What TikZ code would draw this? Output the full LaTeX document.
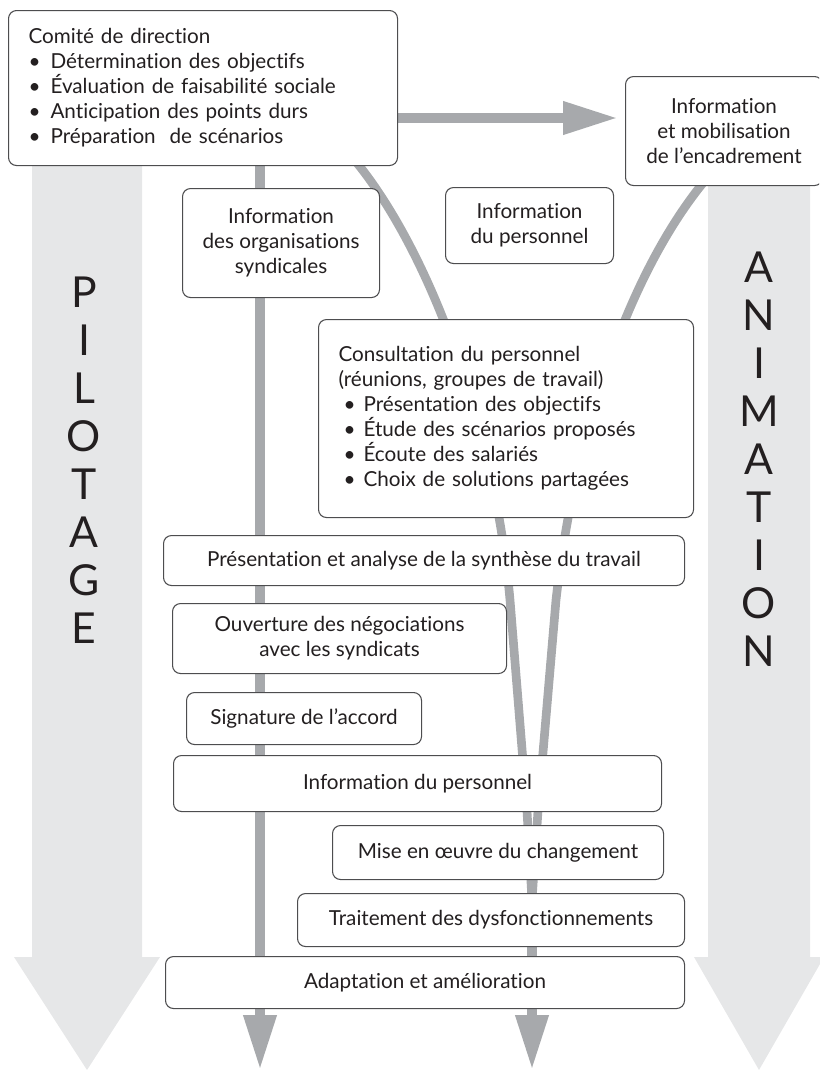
\documentclass[tikz,border=0pt]{standalone}
\usepackage{fontspec}
\setmainfont{Lato}[Ligatures=NoCommon]
\usetikzlibrary{arrows.meta,backgrounds}
\definecolor{flowgray}{RGB}{167,169,172}
\definecolor{bandgray}{RGB}{230,231,232}
\definecolor{edgegray}{RGB}{77,77,79}
\definecolor{inkblack}{RGB}{35,31,32}
\newcommand{\bul}{\makebox[16.5pt][l]{\textbullet}}
\newcommand{\subbul}{\hspace*{3.75pt}\makebox[15pt][l]{\textbullet}}
\tikzset{every picture/.style={line width=0.75pt}}
\tikzset{
  stepbox/.style={draw=edgegray, line width=0.8pt, rounded corners=6pt, fill=white,
    text=inkblack, font=\fontsize{15.5}{18.75}\selectfont, inner sep=0pt, align=center},
  sz/.style 2 args={minimum width=#1*0.75pt, minimum height=#2*0.75pt},
  flow/.style={draw=flowgray, line width=7.5pt},
  flowcurve/.style={draw=flowgray, line width=6.5pt},
  flowtip/.style={-{Triangle[length=41.25pt,width=23.25pt]}},
  band/.style={fill=bandgray},
  bandletter/.style={font=\fontsize{32}{32}\selectfont, text=inkblack}
}
\begin{document}
\begin{tikzpicture}[x=0.75pt,y=0.75pt,yscale=-1,xscale=1]
\useasboundingbox (0,0) rectangle (819,1071);
\clip (0,0) rectangle (819,1071);

% Boxes
\node[stepbox, sz={389}{155}, anchor=north west, align=left, text width=261.75pt, inner xsep=15pt] (comite) at (8,10)
  {Comité de direction\\
   \bul Détermination des objectifs\\
   \bul Évaluation de faisabilité sociale\\
   \bul Anticipation des points durs\\
   \bul Préparation\ \ de scénarios};
\node[stepbox, sz={197}{109}, anchor=north west] (mobil) at (625,76) {Information\\et mobilisation\\de l’encadrement};
\node[stepbox, sz={197}{109}, anchor=north west] (synd) at (182,188) {Information\\des organisations\\syndicales};
\node[stepbox, sz={168}{76}, anchor=north west] (infopers) at (445,187) {Information\\du personnel};
\node[stepbox, sz={375}{198}, anchor=north west, align=left, text width=251.25pt, inner xsep=15pt] (consult) at (318,319)
  {Consultation du personnel\\
   (réunions, groupes de travail)\\
   \subbul Présentation des objectifs\\
   \subbul Étude des scénarios proposés\\
   \subbul Écoute des salariés\\
   \subbul Choix de solutions partagées};
\node[stepbox, sz={521}{50}, anchor=north west] (synth) at (163,535) {Présentation et analyse de la synthèse du travail};
\node[stepbox, sz={334}{70}, anchor=north west] (negoc) at (172,603) {Ouverture des négociations\\avec les syndicats};
\node[stepbox, sz={235}{52}, anchor=north west] (accord) at (186,692) {Signature de l’accord};
\node[stepbox, sz={488}{56}, anchor=north west] (infopers2) at (173,755) {Information du personnel};
\node[stepbox, sz={331}{54}, anchor=north west] (oeuvre) at (332,825) {Mise en œuvre du changement};
\node[stepbox, sz={387}{53}, anchor=north west] (dysf) at (297,893) {Traitement des dysfonctionnements};
\node[stepbox, sz={519}{52}, anchor=north west] (adapt) at (165,956) {Adaptation et amélioration};

\coordinate (tipL) at (260,1070);
\coordinate (tipR) at (532,1070);
\coordinate (tipH) at (618,118);
\coordinate (joinV) at (532,900);
\path (comite.south west) ++(345,-8) coordinate (cL);
\path (mobil.south west) ++(82,-8) coordinate (cR);

\begin{scope}[on background layer]
%Shape: Band PILOTAGE
\path[band] (32,150) -- (142,150) -- (142,957) -- (160,957) -- (87,1070) -- (14,957) -- (32,957) -- cycle;
%Shape: Band ANIMATION
\path[band] (708,180) -- (810,180) -- (810,957) -- (824,957) -- (759,1070) -- (694,957) -- (708,957) -- cycle;
\foreach \ch [count=\i from 0] in {P,I,L,O,T,A,G,E}
  \node[bandletter] (pil\i) at (84,{292+48*\i}) {\ch};
\foreach \ch [count=\i from 0] in {A,N,I,M,A,T,I,O,N}
  \node[bandletter] (ani\i) at (759,{267+48*\i}) {\ch};

% Flows
\draw[flow, flowtip] (comite.south -| tipL) -- (tipL);
\draw[flow, flowtip] (comite.east |- tipH) -- (tipH);
\draw[flowcurve] (cL) .. controls (430,250) and (495,430) .. (510,600) -- (527,811) -- (joinV);
\draw[flowcurve] (cR) .. controls (630,270) and (575,430) .. (556,600) -- (538,811) -- (joinV);
\draw[flow, flowtip] (tipR |- oeuvre.center) -- (tipR);
\end{scope}

\end{tikzpicture}
\end{document}
